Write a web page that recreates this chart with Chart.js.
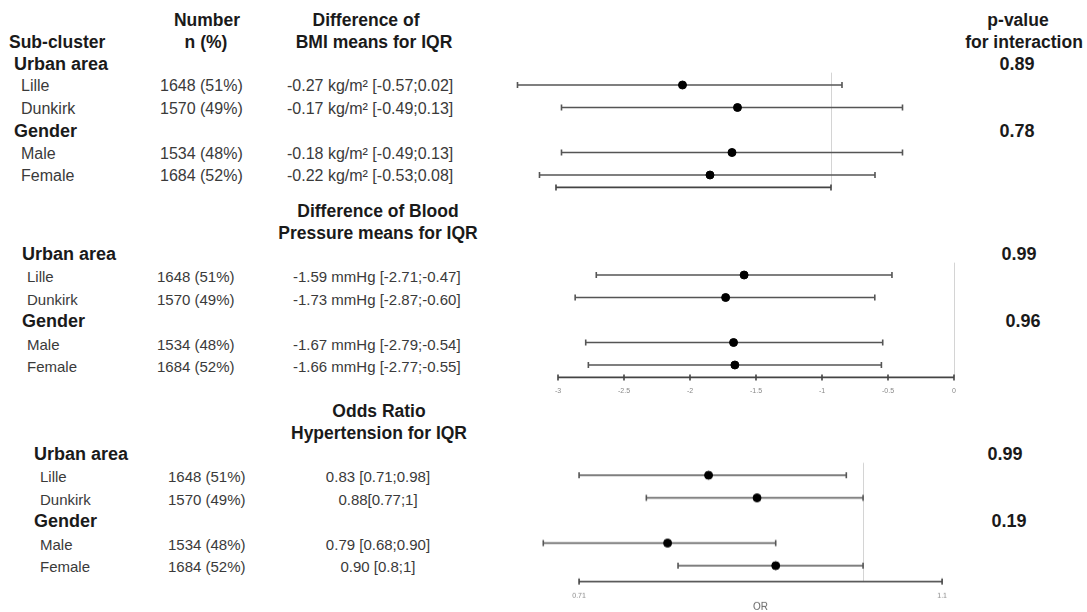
<!DOCTYPE html>
<html>
<head>
<meta charset="utf-8">
<script src="https://cdn.jsdelivr.net/npm/chart.js@4.4.1/dist/chart.umd.min.js"></script>
<style>
  html, body { margin: 0; padding: 0; background: #fff; overflow: hidden; }
  body { width: 1087px; height: 612px; position: relative; font-family: "Liberation Sans", Arial, sans-serif; }
  .panel { position: absolute; }
  .t { position: absolute; white-space: nowrap; transform: translateY(-50%); color: #3a3a3a; font-size: 15px; }
  .t.c { transform: translate(-50%, -50%); }
  .t.big { font-size: 16px; }
  .t.b { font-weight: bold; color: #1a1a1a; font-size: 18px; }
  .t.h { font-weight: bold; color: #1a1a1a; font-size: 17.5px; }
</style>
</head>
<body>
<div class="panel" id="p1" style="left:500px;top:40px;width:430px;height:180px"><canvas id="c1"></canvas></div>
<div class="panel" id="p2" style="left:530px;top:230px;width:450px;height:180px"><canvas id="c2"></canvas></div>
<div class="panel" id="p3" style="left:530px;top:430px;width:430px;height:202.5px"><canvas id="c3"></canvas></div>
<script>
// ---- data ----
const groups = ["Urban area", "Gender"];
const subgroups = ["Lille", "Dunkirk", "Male", "Female"];
const counts = ["1648 (51%)", "1570 (49%)", "1534 (48%)", "1684 (52%)"];

const bmiEst  = [-0.27, -0.17, -0.18, -0.22];
const bmiLow  = [-0.57, -0.49, -0.49, -0.53];
const bmiHigh = [0.02, 0.13, 0.13, 0.08];
const bmiText = ["-0.27 kg/m² [-0.57;0.02]", "-0.17 kg/m² [-0.49;0.13]",
                 "-0.18 kg/m² [-0.49;0.13]", "-0.22 kg/m² [-0.53;0.08]"];
const bmiP = ["0.89", "0.78"];
const bmiAxis = [-0.5, 0];

const bpEst  = [-1.59, -1.73, -1.67, -1.66];
const bpLow  = [-2.71, -2.87, -2.79, -2.77];
const bpHigh = [-0.47, -0.60, -0.54, -0.55];
const bpText = ["-1.59 mmHg [-2.71;-0.47]", "-1.73 mmHg [-2.87;-0.60]",
                "-1.67 mmHg [-2.79;-0.54]", "-1.66 mmHg [-2.77;-0.55]"];
const bpP = ["0.99", "0.96"];
const bpTicks = [-3, -2.5, -2, -1.5, -1, -0.5, 0];

const orEst  = [0.83, 0.88, 0.79, 0.90];
const orLow  = [0.71, 0.77, 0.68, 0.8];
const orHigh = [0.98, 1, 0.90, 1];
const orText = ["0.83 [0.71;0.98]", "0.88[0.77;1]", "0.79 [0.68;0.90]", "0.90 [0.8;1]"];
const orP = ["0.99", "0.19"];
const orTicks = [0.71, 1.1];

// row slots: group headers and subgroup lines
const groupRows = [0, 3];
const rows = [1, 2, 4, 5];

// ---- forest drawing ----
const forestPlugin = {
  id: "forest",
  beforeDatasetsDraw(chart, args, o) {
    const { ctx } = chart;
    const xs = chart.scales.x, ys = chart.scales.y;
    const ay = ys.getPixelForValue(o.axisRow);
    ctx.save();
    // reference line
    const rx = Math.round(xs.getPixelForValue(o.ref)) + 0.5;
    ctx.strokeStyle = "#d4d4d4";
    ctx.lineWidth = 1;
    ctx.beginPath();
    ctx.moveTo(rx, ys.getPixelForValue(0.45));
    ctx.lineTo(rx, ay);
    ctx.stroke();
    // whiskers
    ctx.strokeStyle = "#555";
    ctx.lineWidth = 1.6;
    o.low.forEach((lo, i) => {
      const y = ys.getPixelForValue(rows[i]);
      const x1 = xs.getPixelForValue(lo), x2 = xs.getPixelForValue(o.high[i]);
      ctx.beginPath();
      ctx.moveTo(x1, y); ctx.lineTo(x2, y);
      ctx.moveTo(x1, y - 3); ctx.lineTo(x1, y + 3);
      ctx.moveTo(x2, y - 3); ctx.lineTo(x2, y + 3);
      ctx.stroke();
    });
    // axis
    const ticks = o.ticks;
    const a1 = xs.getPixelForValue(ticks[0]), a2 = xs.getPixelForValue(ticks[ticks.length - 1]);
    ctx.strokeStyle = "#444";
    ctx.lineWidth = 1.6;
    ctx.beginPath();
    ctx.moveTo(a1, ay); ctx.lineTo(a2, ay);
    ticks.forEach(t => {
      const tx = xs.getPixelForValue(t);
      ctx.moveTo(tx, ay - 3); ctx.lineTo(tx, ay + 3);
    });
    ctx.stroke();
    if (o.showLabels) {
      ctx.fillStyle = "#888";
      ctx.font = "7px 'Liberation Sans', Arial, sans-serif";
      ctx.textAlign = "center";
      ctx.textBaseline = "middle";
      ticks.forEach(t => ctx.fillText(String(t), xs.getPixelForValue(t), ay + 14));
    }
    if (o.title) {
      ctx.fillStyle = "#666";
      ctx.font = "10px 'Liberation Sans', Arial, sans-serif";
      ctx.textAlign = "center";
      ctx.fillText(o.title, (a1 + a2) / 2, ay + 25);
    }
    ctx.restore();
  }
};

function makeForest(id, est, low, high, xopts, plug, ymax) {
  return new Chart(document.getElementById(id), {
    type: "scatter",
    data: {
      datasets: [{
        data: est.map((v, i) => ({ x: v, y: rows[i] })),
        backgroundColor: "#000",
        borderColor: "#000",
        pointRadius: 4,
        pointHoverRadius: 4,
        clip: false
      }]
    },
    options: {
      responsive: true,
      maintainAspectRatio: false,
      animation: false,
      events: [],
      layout: { padding: 0, autoPadding: false },
      plugins: {
        legend: { display: false },
        tooltip: { enabled: false },
        forest: Object.assign({ low, high }, plug)
      },
      scales: {
        x: Object.assign({ display: false }, xopts),
        y: { type: "linear", display: false, reverse: true, min: -1, max: ymax }
      }
    },
    plugins: [forestPlugin]
  });
}

const c1 = makeForest("c1", bmiEst, bmiLow, bmiHigh,
  { type: "linear", min: -0.6018, max: 0.18 },
  { ref: 0, ticks: bmiAxis, showLabels: false, axisRow: 5.55 }, 7);
const c2 = makeForest("c2", bpEst, bpLow, bpHigh,
  { type: "linear", min: -3.2121, max: 0.19697 },
  { ref: 0, ticks: bpTicks, showLabels: true, axisRow: 5.55 }, 7);
const c3 = makeForest("c3", orEst, orLow, orHigh,
  { type: "logarithmic", min: 0.6692, max: 1.124 },
  { ref: 1, ticks: orTicks, showLabels: true, title: "OR", axisRow: 5.7 }, 8);

// ---- text table ----
function addText(txt, x, y, cls) {
  const d = document.createElement("div");
  d.className = "t " + (cls || "");
  d.textContent = txt;
  d.style.left = x + "px";
  d.style.top = y + "px";
  document.body.appendChild(d);
}

addText("Sub-cluster", 9, 42, "h");
addText("Number", 207, 20, "h c");
addText("n (%)", 206, 42, "h c");
addText("Difference of", 366, 20, "h c");
addText("BMI means for IQR", 374, 42, "h c");
addText("p-value", 1018, 20, "h c");
addText("for interaction", 1024, 42, "h c");

const layout = [
  { chart: c1, top: 40, title: null, gx: 14, lx: 21, nx: 160, cx: 287, cls: "big", text: bmiText, p: bmiP, px: [1017, 1017] },
  { chart: c2, top: 230, title: ["Difference of Blood", "Pressure means for IQR"], ty: [211, 233], tx: 378,
    gx: 22, lx: 27, nx: 157, cx: 293, cls: "", text: bpText, p: bpP, px: [1019, 1023] },
  { chart: c3, top: 430, title: ["Odds Ratio", "Hypertension for IQR"], ty: [411, 433], tx: 379,
    gx: 34, lx: 40, nx: 168, cx: 378, cls: "", cAlign: "c", text: orText, p: orP, px: [1005, 1009] }
];

layout.forEach(L => {
  const ys = L.chart.scales.y;
  if (L.title) L.title.forEach((s, i) => addText(s, L.tx, L.ty[i], "h c"));
  groups.forEach((g, i) => {
    const y = L.top + ys.getPixelForValue(groupRows[i]) + 1;
    addText(g, L.gx, y, "b");
    addText(L.p[i], L.px[i], y, "b c");
  });
  subgroups.forEach((s, i) => {
    const y = L.top + ys.getPixelForValue(rows[i]) + 1;
    addText(s, L.lx, y, L.cls);
    addText(counts[i], L.nx, y, L.cls);
    addText(L.text[i], L.cx, y, L.cls + " " + (L.cAlign || ""));
  });
});
</script>
</body>
</html>
